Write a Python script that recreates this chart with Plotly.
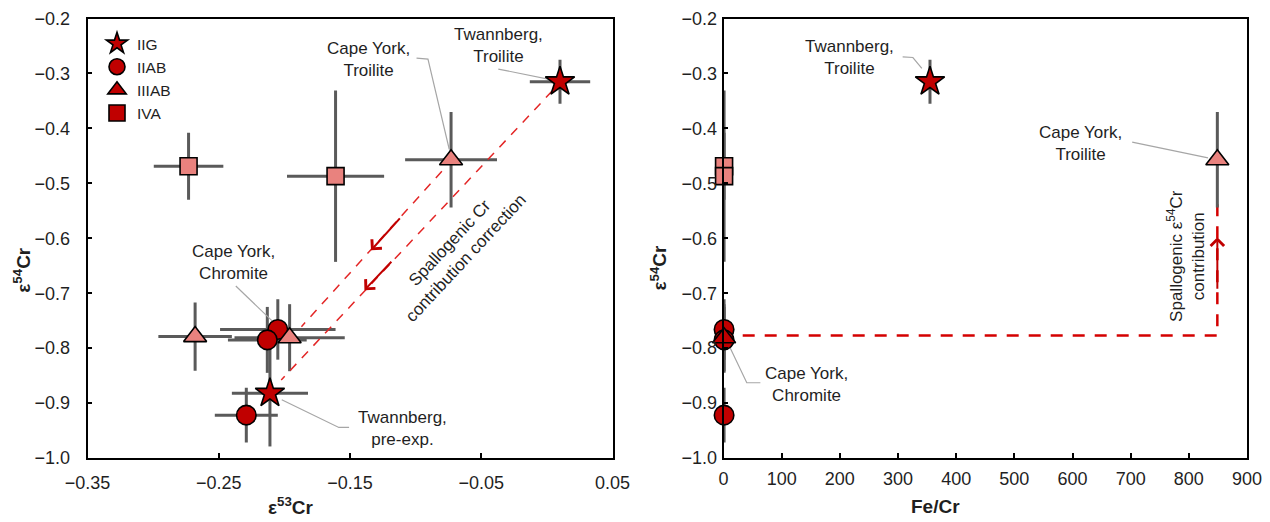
import plotly.graph_objects as go

# ---------------- data ----------------
DARK = "#C00000"
PINK = "#E9827E"

# IIG (stars): Twannberg troilite, Twannberg pre-exp.
iig_e53 = [0.010, -0.211]
iig_e54 = [-0.315, -0.882]
iig_e53_err = [0.023, 0.029]
iig_e54_err = [0.040, 0.097]

# IIAB (circles)
iiab_e53 = [-0.205, -0.213, -0.229]
iiab_e54 = [-0.766, -0.785, -0.922]
iiab_e53_err = [0.044, 0.030, 0.024]
iiab_e54_err = [0.055, 0.060, 0.050]
iiab_fecr = [1, 1, 1]

# IIIAB (triangles): Cape York troilite, IIIAB, Cape York chromite
iiiab_e53 = [-0.073, -0.268, -0.196]
iiiab_e54 = [-0.457, -0.779, -0.781]
iiiab_e53_err = [0.035, 0.028, 0.042]
iiiab_e54_err = [0.087, 0.062, 0.061]

# IVA (squares)
iva_e53 = [-0.273, -0.161]
iva_e54 = [-0.469, -0.487]
iva_e53_err = [0.0265, 0.037]
iva_e54_err = [0.061, 0.156]
iva_fecr = [1, 1]

# Right panel (Fe/Cr)
twann_troilite_fecr = [355]
twann_troilite_e54 = [-0.315]
twann_troilite_err = [0.040]
cy_chromite_fecr = [1]
cy_chromite_e54 = [-0.781]
cy_chromite_err = [0.061]
cy_troilite_fecr = [849]
cy_troilite_e54 = [-0.457]
cy_troilite_err = [0.087]

legend_names = ["IIG", "IIAB", "IIIAB", "IVA"]
legend_symbols = ["star", "circle", "triangle-up", "square"]

# correction lines (left panel)
corr_a_x = [-0.080, -0.187]
corr_a_y = [-0.478, -0.761]
corr_b_x = [0.004, -0.2024]
corr_b_y = [-0.332, -0.858]
# spallogenic line (right panel)
spall_x = [33, 849, 849]
spall_y = [-0.777, -0.777, -0.52]

FONT = "Liberation Sans, Arial, sans-serif"
TXT = "#1f1f1f"
ERRC = "#5a5a5a"
LEAD = "#a6a6a6"

fig = go.Figure()


def err_trace(x, y, ex, ey, xa, ya, show_x=True):
    d = dict(x=x, y=y, mode="markers", xaxis=xa, yaxis=ya, showlegend=False,
             hoverinfo="skip", cliponaxis=False, marker=dict(size=1, color="rgba(0,0,0,0)"),
             error_y=dict(type="data", array=ey, color=ERRC, thickness=3, width=0))
    if show_x:
        d["error_x"] = dict(type="data", array=ex, color=ERRC, thickness=3, width=0)
    return go.Scatter(**d)


def mk(x, y, sym, size, color, xa, ya):
    return go.Scatter(x=x, y=y, mode="markers", xaxis=xa, yaxis=ya, showlegend=False,
                      cliponaxis=False,
                      marker=dict(symbol=sym, size=size, color=color,
                                  line=dict(color="black", width=1.6)))


def line(x, y, xa, ya, color, width, dash=None):
    return go.Scatter(x=x, y=y, mode="lines", xaxis=xa, yaxis=ya, showlegend=False,
                      hoverinfo="skip", line=dict(color=color, width=width, dash=dash))


# ---------- left panel ----------
fig.add_trace(err_trace(iva_e53, iva_e54, iva_e53_err, iva_e54_err, "x", "y"))
fig.add_trace(err_trace(iiiab_e53, iiiab_e54, iiiab_e53_err, iiiab_e54_err, "x", "y"))
fig.add_trace(err_trace(iiab_e53, iiab_e54, iiab_e53_err, iiab_e54_err, "x", "y"))
fig.add_trace(err_trace(iig_e53, iig_e54, iig_e53_err, iig_e54_err, "x", "y"))
fig.add_trace(line(corr_a_x, corr_a_y, "x", "y", "#E32626", 1.5, "9px,8px"))
fig.add_trace(line(corr_b_x, corr_b_y, "x", "y", "#E32626", 1.5, "9px,8px"))
# leader lines (left)
fig.add_trace(line([-0.037, 0.0066], [-0.292, -0.313], "x", "y", LEAD, 1.2))
fig.add_trace(line([-0.0993, -0.0906, -0.0744], [-0.272, -0.274, -0.438], "x", "y", LEAD, 1.2))
fig.add_trace(line([-0.237, -0.199], [-0.687, -0.774], "x", "y", LEAD, 1.2))
fig.add_trace(line([-0.202, -0.1585, -0.1507], [-0.894, -0.9444, -0.9444], "x", "y", LEAD, 1.2))

fig.add_trace(mk(iva_e53, iva_e54, "square", 17, PINK, "x", "y"))
fig.add_trace(mk(iiab_e53, iiab_e54, "circle", 19.5, DARK, "x", "y"))
fig.add_trace(mk(iiiab_e53, iiiab_e54, "triangle-up", 20, PINK, "x", "y"))
fig.add_trace(mk(iig_e53, iig_e54, "star", 22, DARK, "x", "y"))

# ---------- right panel ----------
fig.add_trace(err_trace(iva_fecr, iva_e54, None, iva_e54_err, "x2", "y2", False))
fig.add_trace(err_trace(iiab_fecr, iiab_e54, None, iiab_e54_err, "x2", "y2", False))
fig.add_trace(err_trace(cy_chromite_fecr, cy_chromite_e54, None, cy_chromite_err, "x2", "y2", False))
fig.add_trace(err_trace(twann_troilite_fecr, twann_troilite_e54, None, twann_troilite_err, "x2", "y2", False))
fig.add_trace(line(spall_x, spall_y, "x2", "y2", "#D40000", 2.5, "12px,10px"))
fig.add_trace(err_trace(cy_troilite_fecr, cy_troilite_e54, None, cy_troilite_err, "x2", "y2", False))
fig.add_trace(line([308, 325.6, 341], [-0.27, -0.271, -0.291], "x2", "y2", LEAD, 1.2))
fig.add_trace(line([702.6, 833], [-0.425, -0.4537], "x2", "y2", LEAD, 1.2))
fig.add_trace(line([8.5, 40, 63.4], [-0.793, -0.863, -0.863], "x2", "y2", LEAD, 1.2))

fig.add_trace(mk(iva_fecr, iva_e54, "square", 17, PINK, "x2", "y2"))
fig.add_trace(mk(iiab_fecr, iiab_e54, "circle", 19.5, DARK, "x2", "y2"))
fig.add_trace(mk(cy_chromite_fecr, cy_chromite_e54, "triangle-up", 20, DARK, "x2", "y2"))
fig.add_trace(mk(cy_troilite_fecr, cy_troilite_e54, "triangle-up", 20, PINK, "x2", "y2"))
fig.add_trace(mk(twann_troilite_fecr, twann_troilite_e54, "star", 22, DARK, "x2", "y2"))

# legend-only traces
for name, sym in zip(legend_names, legend_symbols):
    fig.add_trace(go.Scatter(x=[None], y=[None], mode="markers", name=name, xaxis="x", yaxis="y",
                             marker=dict(symbol=sym, size=16, color=DARK,
                                         line=dict(color="black", width=1.6))))

# ---------- annotations ----------
ann = []


def txt(x, y, t, xr, yr, size=17, angle=0):
    ann.append(dict(x=x, y=y, xref=xr, yref=yr, text=t, showarrow=False, textangle=angle,
                    xanchor="center", yanchor="middle",
                    font=dict(family=FONT, size=size, color=TXT)))


txt(-0.037, -0.2494, "Twannberg,<br>Troilite", "x", "y")
txt(-0.1358, -0.2755, "Cape York,<br>Troilite", "x", "y")
txt(-0.2385, -0.6435, "Cape York,<br>Chromite", "x", "y")
txt(-0.1102, -0.9456, "Twannberg,<br>pre-exp.", "x", "y")
txt(-0.068, -0.622, "Spallogenic Cr<br>contribution correction", "x", "y", 17, -47)

txt(216, -0.271, "Twannberg,<br>Troilite", "x2", "y2")
txt(613, -0.428, "Cape York,<br>Troilite", "x2", "y2")
txt(142, -0.866, "Cape York,<br>Chromite", "x2", "y2")
txt(796, -0.633, "Spallogenic ε<sup>54</sup>Cr<br>contribution", "x2", "y2", 17, -90)


def arrow(hx, hy, tx, ty, xr, yr):
    ann.append(dict(x=hx, y=hy, ax=tx, ay=ty, xref=xr, yref=yr, axref=xr, ayref=yr,
                    text="", showarrow=True, arrowhead=4, arrowsize=1.3, arrowwidth=2,
                    arrowcolor=DARK, standoff=0, startstandoff=0))


arrow(-0.134, -0.622, -0.111, -0.561, "x", "y")
arrow(-0.139, -0.6945, -0.1174, -0.640, "x", "y")
arrow(849, -0.598, 849, -0.6945, "x2", "y2")


# axis titles
def title(x, y, t, angle=0):
    ann.append(dict(x=x, y=y, xref="paper", yref="paper", text=t, showarrow=False,
                    textangle=angle, xanchor="center", yanchor="middle",
                    font=dict(family=FONT, size=19, color=TXT)))


title(290.5 / 1270, 1 - 506 / 522, "<b>ε<sup>53</sup>Cr</b>")
title(935 / 1270, 1 - 506 / 522, "<b>Fe/Cr</b>")
title(21.7 / 1270, 1 - 270 / 522, "<b>ε<sup>54</sup>Cr</b>", -90)
title(658 / 1270, 1 - 267.5 / 522, "<b>ε<sup>54</sup>Cr</b>", -90)

axis_common = dict(showline=True, linecolor="black", linewidth=1.5, mirror=True,
                   ticks="inside", ticklen=5, tickwidth=1.5, tickcolor="black",
                   showgrid=False, zeroline=False, automargin=False,
                   tickfont=dict(family=FONT, size=18, color=TXT))

ydom = [1 - 458 / 522, 1 - 18.5 / 522]

fig.update_layout(
    width=1270, height=522,
    margin=dict(l=0, r=0, t=0, b=0),
    paper_bgcolor="white", plot_bgcolor="white",
    xaxis=dict(domain=[87.5 / 1270, 612.5 / 1270], range=[-0.35, 0.05], tick0=-0.35, dtick=0.1,
               tickformat=".2f", anchor="y", ticklabelstandoff=8, **axis_common),
    yaxis=dict(domain=ydom, range=[-1.0, -0.2], tick0=-1.0, dtick=0.1, tickformat=".1f",
               anchor="x", ticklabelstandoff=12, **axis_common),
    xaxis2=dict(domain=[723.5 / 1270, 1247 / 1270], range=[0, 900], dtick=100, anchor="y2",
                ticklabelstandoff=4, **axis_common),
    yaxis2=dict(domain=ydom, range=[-1.0, -0.2], tick0=-1.0, dtick=0.1, tickformat=".1f",
                anchor="x2", ticklabelstandoff=1, **axis_common),
    showlegend=True,
    legend=dict(x=97 / 1270, y=1 - 27 / 522, xanchor="left", yanchor="top",
                bgcolor="rgba(0,0,0,0)", tracegroupgap=0,
                font=dict(family=FONT, size=15.5, color=TXT)),
    annotations=ann,
)

fig.write_html("out.html", config={"displayModeBar": False},
               post_script="document.body.style.margin='0';document.body.style.overflow='hidden';")
